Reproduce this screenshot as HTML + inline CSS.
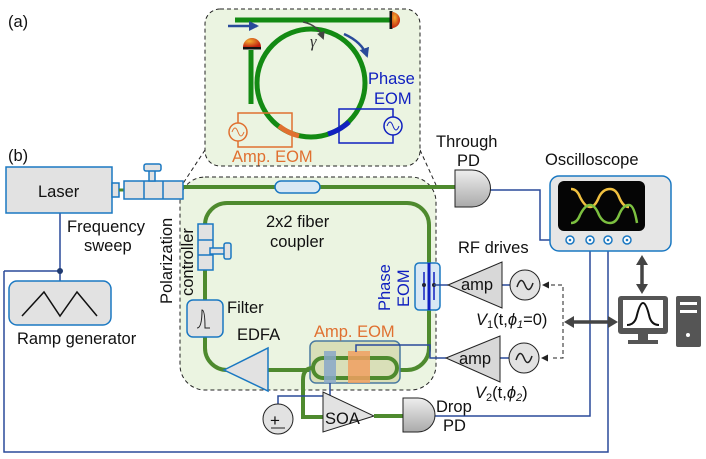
<!DOCTYPE html>
<html><head><meta charset="utf-8"><style>
body{margin:0;background:#fff}
svg{display:block}
text{font-family:"Liberation Sans",sans-serif;font-size:16.5px;fill:#111}
</style></head><body>
<svg width="706" height="459" viewBox="0 0 706 459" xmlns="http://www.w3.org/2000/svg">
<defs>
<marker id="bh" markerUnits="userSpaceOnUse" markerWidth="10" markerHeight="10" refX="8" refY="5" orient="auto"><path d="M0,0 L10,5 L0,10z" fill="#2a4a9a"/></marker>
<marker id="kh" markerUnits="userSpaceOnUse" markerWidth="8" markerHeight="8" refX="6" refY="4" orient="auto"><path d="M0,0 L8,4 L0,8z" fill="#444"/></marker>
<radialGradient id="det" cx="0.35" cy="0.35" r="0.7"><stop offset="0" stop-color="#f5b030"/><stop offset="1" stop-color="#c02010"/></radialGradient>
<linearGradient id="pd" x1="0" y1="0" x2="0" y2="1"><stop offset="0" stop-color="#eee"/><stop offset="1" stop-color="#aaa"/></linearGradient>
</defs>
<text x="8" y="27">(a)</text>
<text x="8" y="161">(b)</text>

<path d="M205,150 L182,185 M420,150 L436,185" stroke="#222" stroke-dasharray="4,3" fill="none"/>

<rect x="205" y="9" width="215" height="157" rx="15" fill="#ebf4e1" stroke="#222" stroke-dasharray="4,3"/>
<line x1="235" y1="20" x2="390" y2="20" stroke="#138a13" stroke-width="5"/>
<line x1="391" y1="11" x2="391" y2="29" stroke="#111" stroke-width="3"/>
<path d="M392,12 A8,8 0 0 1 392,28 Z" fill="url(#det)"/>
<line x1="251" y1="50" x2="251" y2="104" stroke="#138a13" stroke-width="5"/>
<line x1="243" y1="48" x2="261" y2="48" stroke="#111" stroke-width="3"/>
<path d="M243,47 A9,9 0 0 1 261,47 Z" fill="url(#det)"/>
<circle cx="311" cy="83" r="54" fill="none" stroke="#138a13" stroke-width="5"/>
<path d="M279,126 A54,54 0 0 0 299,136" fill="none" stroke="#e07030" stroke-width="5"/>
<path d="M328,134 A54,54 0 0 0 349,122" fill="none" stroke="#1020c0" stroke-width="5"/>
<line x1="228" y1="26" x2="257" y2="26" stroke="#2a4a9a" stroke-width="2.5" marker-end="url(#bh)"/>
<path d="M344,34 Q362,42 367,56" fill="none" stroke="#2a4a9a" stroke-width="2.5" marker-end="url(#bh)"/>
<path d="M303,22 Q318,25 323,38" fill="none" stroke="#444" stroke-width="1.5" marker-end="url(#kh)"/>
<text x="310" y="47" style="font-family:'Liberation Serif',serif;font-style:italic;fill:#333">γ</text>
<rect x="238" y="113" width="54" height="34" fill="none" stroke="#e07030" stroke-width="1.5"/>
<circle cx="238" cy="132" r="9" fill="#ebf4e1" stroke="#e07030" stroke-width="1.5"/>
<path d="M232,132 q3,-8 6,0 t6,0" fill="none" stroke="#e07030"/>
<text x="232" y="162" style="fill:#e07030">Amp. EOM</text>
<rect x="339" y="109" width="54" height="34" fill="none" stroke="#1020c0" stroke-width="1.5"/>
<circle cx="393" cy="126" r="9" fill="#ebf4e1" stroke="#1020c0" stroke-width="1.5"/>
<path d="M387,126 q3,-8 6,0 t6,0" fill="none" stroke="#1020c0"/>
<text x="368" y="84" style="fill:#1020c0">Phase</text>
<text x="374" y="104" style="fill:#1020c0">EOM</text>

<rect x="180" y="177" width="256" height="213" rx="25" fill="#ebf4e1" stroke="#222" stroke-dasharray="4,3"/>
<line x1="182" y1="187" x2="458" y2="187" stroke="#4e8a2e" stroke-width="4"/>
<rect x="205" y="203" width="224" height="167" rx="22" fill="none" stroke="#4e8a2e" stroke-width="4"/>
<rect x="275" y="181" width="45" height="12" rx="6" fill="#d8e8f4" stroke="#1a78c2" stroke-width="1.5"/>
<text x="266" y="227">2x2 fiber</text>
<text x="270" y="247">coupler</text>
<rect x="198" y="224" width="15" height="46" fill="#e2e2e2" stroke="#1a78c2" stroke-width="1.5"/>
<line x1="198" y1="240" x2="213" y2="240" stroke="#1a78c2" stroke-width="1.5"/><line x1="198" y1="255" x2="213" y2="255" stroke="#1a78c2" stroke-width="1.5"/>
<rect x="210" y="248" width="16" height="6" fill="#e2e2e2" stroke="#1a78c2" stroke-width="1.5"/>
<rect x="224" y="243" width="7" height="16" rx="2" fill="#e2e2e2" stroke="#1a78c2" stroke-width="1.5"/>
<text transform="translate(172,304) rotate(-90)">Polarization</text>
<text transform="translate(193,296) rotate(-90)">controller</text>
<rect x="187" y="300" width="36" height="37" rx="6" fill="#e2e2e2" stroke="#1a78c2" stroke-width="1.5"/>
<path d="M197,328 q5,0 5,-18 q3,0 3,18 q2,0 5,0" fill="none" stroke="#222"/>
<text x="227" y="313">Filter</text>
<text x="237" y="340">EDFA</text>
<polygon points="224,370 268,348 268,391" fill="#e2e2e2" stroke="#1a78c2" stroke-width="1.5"/>
<rect x="310" y="341" width="90" height="42" rx="6" fill="#d9dfb8" stroke="#4a7aa0" stroke-width="1.5"/>
<rect x="313" y="358" width="84" height="20" rx="10" fill="none" stroke="#4e8a2e" stroke-width="4"/>
<rect x="324" y="351" width="12" height="32" fill="#88a8c8" opacity="0.85"/>
<rect x="348" y="351" width="22" height="32" fill="#f0a060" opacity="0.85"/>
<text x="314" y="337" style="fill:#e07030">Amp. EOM</text>
<path d="M313,368 Q303,368 303,380 L303,417 L323,417" fill="none" stroke="#4e8a2e" stroke-width="4"/>
<rect x="415" y="263" width="25" height="47" rx="4" fill="#d8e8f4" stroke="#1a78c2" stroke-width="1.5"/>
<line x1="429" y1="263" x2="429" y2="310" stroke="#1020c0" stroke-width="3"/>
<line x1="424" y1="272" x2="424" y2="300" stroke="#1020c0" stroke-width="1.5"/>
<line x1="434" y1="272" x2="434" y2="300" stroke="#1020c0" stroke-width="1.5"/>
<circle cx="424" cy="285" r="2" fill="#223"/><circle cx="434" cy="285" r="2" fill="#223"/>
<text transform="translate(390,311) rotate(-90)" style="fill:#1020c0">Phase</text>
<text transform="translate(409,307) rotate(-90)" style="fill:#1020c0">EOM</text>

<g fill="none" stroke="#2a4a9a" stroke-width="1.5">
<path d="M434,285 L448,285"/>
<path d="M446,358 L430,358 L430,345 L356,345 L356,352"/>
<path d="M330,383 L330,396 L278,396 L278,404"/>
<path d="M490,190 L540,190 L540,240 L566,240"/>
<path d="M435,416 L590,416 L590,244"/>
<path d="M60,213 L60,271 M4,271 L60,271 L60,281 M4,271 L4,452 L608,452 L608,244"/>
<path d="M502,285 L510,285 M500,358 L509,358"/>
</g>
<circle cx="60" cy="271" r="3" fill="#1f3a70"/>
<polygon points="323,392 323,432 374,416" fill="#e2e2e2" stroke="#222"/>
<text x="325" y="424">SOA</text>
<line x1="374" y1="416" x2="403" y2="416" stroke="#4e8a2e" stroke-width="4"/>
<path d="M403,398 L418,398 A17,17 0 0 1 418,432 L403,432 Z" fill="url(#pd)" stroke="#222"/>
<text x="436" y="412">Drop</text>
<text x="443" y="431">PD</text>
<circle cx="278" cy="419" r="15" fill="#e2e2e2" stroke="#222"/>
<text x="270" y="426" style="font-size:17px">+</text>
<line x1="271" y1="428" x2="285" y2="428" stroke="#222"/>
<path d="M455,170 L472,170 A18,18 0 0 1 472,207 L455,207 Z" fill="url(#pd)" stroke="#222"/>
<text x="436" y="147">Through</text>
<text x="457" y="166">PD</text>
<text x="545" y="165">Oscilloscope</text>
<rect x="550" y="176" width="121" height="75" rx="9" fill="#e6e6e6" stroke="#1a78c2" stroke-width="1.5"/>
<rect x="558" y="181" width="87" height="50" rx="6" fill="#050505"/>
<path d="M571,189 q6,0 9,8 q5,10 10,10 q5,0 9,-10 q4,-8 11,-8 q6,0 9,8 q4,10 10,10" fill="none" stroke="#f0c040" stroke-width="2.5"/>
<path d="M571,223 q6,0 9,-8 q5,-10 10,-10 q5,0 9,10 q4,8 11,8 q6,0 9,-8 q4,-10 10,-10 q5,0 8,18" fill="none" stroke="#7cc040" stroke-width="2.5"/>
<g fill="#fff" stroke="#1a78c2" stroke-width="1.5"><circle cx="570" cy="240" r="4"/><circle cx="590" cy="240" r="4"/><circle cx="608" cy="240" r="4"/><circle cx="627" cy="240" r="4"/></g>
<g fill="#1a78c2"><circle cx="570" cy="240" r="1.3"/><circle cx="590" cy="240" r="1.3"/><circle cx="608" cy="240" r="1.3"/><circle cx="627" cy="240" r="1.3"/></g>
<text x="458" y="253">RF drives</text>
<polygon points="448,285 502,262 502,308" fill="#d8d8d8" stroke="#222"/>
<text x="461" y="290">amp</text>
<circle cx="525" cy="285" r="15" fill="#e2e2e2" stroke="#222"/>
<path d="M517,287 q4,-12 8,-2 t8,-2" fill="none" stroke="#222" stroke-width="1.5"/>
<polygon points="446,358 500,336 500,382" fill="#d8d8d8" stroke="#222"/>
<text x="459" y="364">amp</text>
<circle cx="524" cy="358" r="15" fill="#e2e2e2" stroke="#222"/>
<path d="M516,360 q4,-12 8,-2 t8,-2" fill="none" stroke="#222" stroke-width="1.5"/>
<text x="476" y="325"><tspan font-style="italic">V</tspan><tspan font-size="11" dy="3">1</tspan><tspan dy="-3">(t,</tspan><tspan font-style="italic">ϕ</tspan><tspan font-size="11" dy="3" font-style="italic">1</tspan><tspan dy="-3">=0)</tspan></text>
<text x="475" y="398"><tspan font-style="italic">V</tspan><tspan font-size="11" dy="3">2</tspan><tspan dy="-3">(t,</tspan><tspan font-style="italic">ϕ</tspan><tspan font-size="11" dy="3" font-style="italic">2</tspan><tspan dy="-3">)</tspan></text>
<path d="M551,285 L563,285 L563,358 L551,358" fill="none" stroke="#222" stroke-dasharray="4,3"/>
<path d="M542,285 l7,-3.5 v7z M541,358 l7,-3.5 v7z" fill="#222"/>
<line x1="568" y1="322" x2="614" y2="322" stroke="#444" stroke-width="3.5"/>
<path d="M564,322 l10,-6 v12z M618,322 l-10,-6 v12z" fill="#444"/>
<line x1="642" y1="260" x2="642" y2="290" stroke="#444" stroke-width="3.5"/>
<path d="M642,255 l-6,10 h12z M642,294 l-6,-10 h12z" fill="#444"/>
<rect x="618" y="296" width="50" height="38" rx="3" fill="#555"/>
<rect x="623" y="300" width="40" height="28" fill="#fff"/>
<path d="M627,325 q8,0 10,-10 q3,-12 6,-12 q3,0 6,12 q2,10 10,10" fill="none" stroke="#111" stroke-width="2"/>
<rect x="638" y="334" width="10" height="6" fill="#555"/><rect x="628" y="340" width="30" height="4" fill="#555"/>
<rect x="676" y="296" width="25" height="51" rx="2" fill="#555"/>
<rect x="680" y="302" width="17" height="3" fill="#fff"/><rect x="680" y="310" width="17" height="3" fill="#fff"/>
<circle cx="688" cy="335" r="2" fill="#fff"/>
<rect x="6" y="167" width="106" height="46" fill="#e2e2e2" stroke="#1a78c2" stroke-width="1.5"/>
<text x="38" y="197">Laser</text>
<rect x="112" y="183" width="7" height="14" fill="#e2e2e2" stroke="#1a78c2" stroke-width="1.5"/>
<line x1="119" y1="190" x2="124" y2="190" stroke="#4e8a2e" stroke-width="3"/>
<rect x="124" y="181" width="59" height="18" fill="#e2e2e2" stroke="#1a78c2" stroke-width="1.5"/>
<line x1="144" y1="181" x2="144" y2="199" stroke="#1a78c2" stroke-width="1.5"/><line x1="163" y1="181" x2="163" y2="199" stroke="#1a78c2" stroke-width="1.5"/>
<rect x="149" y="170" width="6" height="11" fill="#e2e2e2" stroke="#1a78c2" stroke-width="1.5"/>
<rect x="144" y="164" width="17" height="7" rx="2" fill="#e2e2e2" stroke="#1a78c2" stroke-width="1.5"/>
<text x="67" y="232">Frequency</text>
<text x="84" y="251">sweep</text>
<rect x="9" y="281" width="102" height="44" rx="8" fill="#e2e2e2" stroke="#1a78c2" stroke-width="1.5"/>
<path d="M22,316 L44,292 L60,316 L77,292 L97,316" fill="none" stroke="#111" stroke-width="1.5"/>
<text x="17" y="344">Ramp generator</text>
</svg>
</body></html>
